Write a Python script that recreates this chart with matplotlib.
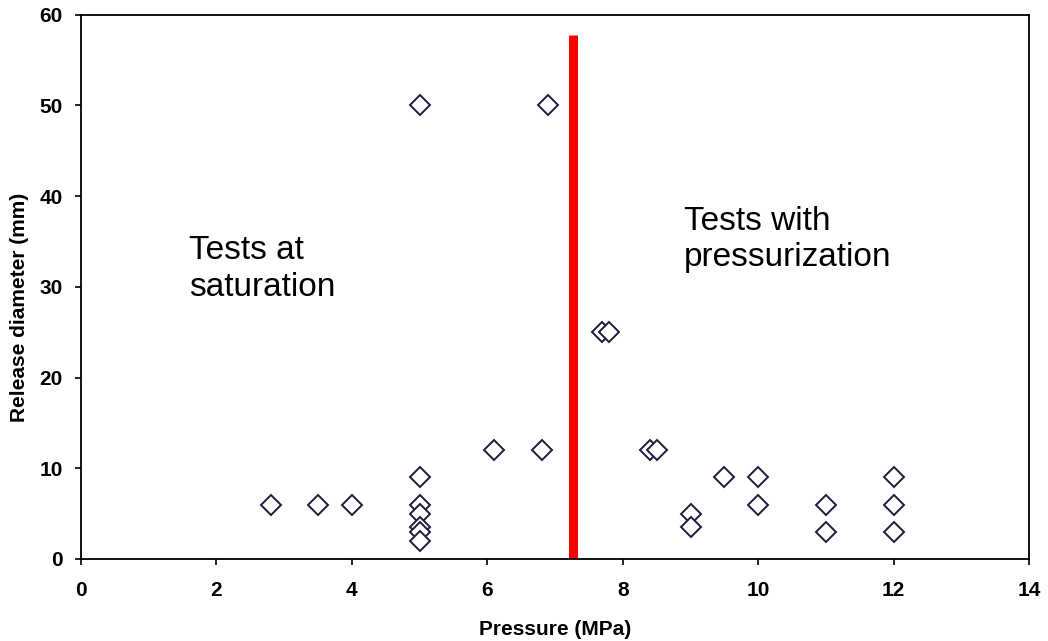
import matplotlib
matplotlib.use("Agg")
import matplotlib.pyplot as plt

pressure = [2.8, 3.5, 4.0, 5.0, 5.0, 5.0, 5.0, 5.0, 5.0, 5.0, 6.1, 6.8, 6.9,
            7.7, 7.8, 8.4, 8.5, 9.0, 9.0, 9.5, 10.0, 10.0, 11.0, 11.0, 12.0, 12.0, 12.0]
diameter = [6, 6, 6, 50, 9, 6, 5, 3.5, 3, 2, 12, 12, 50,
            25, 25, 12, 12, 5, 3.5, 9, 9, 6, 6, 3, 9, 6, 3]
divider_x = [7.27]
divider_top = [57.8]
xticks = [0, 2, 4, 6, 8, 10, 12, 14]
yticks = [0, 10, 20, 30, 40, 50, 60]

plt.rcParams['font.family'] = ['Liberation Sans', 'DejaVu Sans']
fig = plt.figure(figsize=(10.48, 6.41), dpi=100)
ax = fig.add_axes([0.0773, 0.128, 0.9047, 0.849])

ax.vlines(divider_x, 0, divider_top, colors='#ff0000', linewidth=6.5, zorder=2)
ax.plot(pressure, diameter, linestyle='none', marker='D', markersize=10,
        markerfacecolor='white', markeredgecolor='#1c1c3c', markeredgewidth=1.4, zorder=3)

ax.text(1.6, 29.0, "Tests at\nsaturation", fontsize=24, va='baseline', ha='left', linespacing=1.25)
ax.text(8.9, 32.3, "Tests with\npressurization", fontsize=24, va='baseline', ha='left', linespacing=1.2)

ax.set_xlim(0, 14)
ax.set_ylim(0, 60)
ax.set_xticks(xticks)
ax.set_yticks(yticks)
ax.tick_params(direction='out', length=4, width=1.2, labelsize=15)
ax.tick_params(axis='x', pad=12)
ax.tick_params(axis='y', pad=9)
for lab in ax.get_xticklabels() + ax.get_yticklabels():
    lab.set_fontweight('bold')
for s in ax.spines.values():
    s.set_linewidth(1.3)
ax.set_xlabel("Pressure (MPa)", fontsize=15, fontweight='bold', labelpad=14)
ax.set_ylabel("Release diameter (mm)", fontsize=15, fontweight='bold')
ax.yaxis.set_label_coords(-0.055, 0.463)

fig.savefig("out.png", dpi=100)
